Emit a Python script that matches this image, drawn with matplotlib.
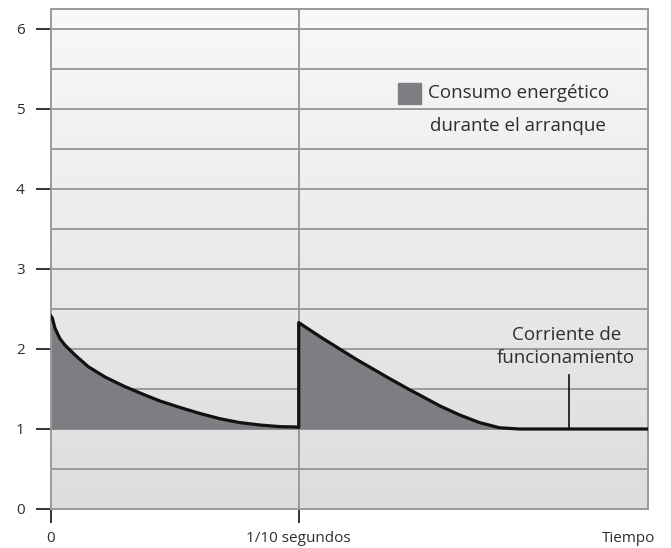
import numpy as np
import matplotlib.pyplot as plt
from matplotlib.colors import LinearSegmentedColormap

# ----------------------------
# Data (x in units of 1/10 s)
# ----------------------------
t_first = [0.0, 0.005, 0.016, 0.036, 0.056, 0.097, 0.15, 0.218, 0.298,
           0.379, 0.44, 0.52, 0.60, 0.68, 0.762, 0.843, 0.923, 0.99]
i_first = [2.41, 2.39, 2.26, 2.13, 2.05, 1.925, 1.78, 1.65, 1.53,
           1.425, 1.35, 1.27, 1.195, 1.13, 1.08, 1.05, 1.03, 1.025]

t_second = [1.0, 1.098, 1.233, 1.367, 1.448, 1.488, 1.569, 1.65, 1.73,
            1.81, 1.89, 2.41]
i_second = [2.33, 2.13, 1.87, 1.63, 1.49, 1.425, 1.29, 1.175, 1.08,
            1.016, 1.0, 1.0]

base_current = 1.0
y_ticks = [0, 1, 2, 3, 4, 5, 6]
x_ticks = [0, 1]
x_tick_labels = ["0", "1/10 segundos"]

plt.rcParams['font.family'] = ['Open Sans', 'DejaVu Sans']
txt_col = '#2e2e2e'
grid_col = '#9a9a9a'
fill_col = '#7d7e82'

fig = plt.figure(figsize=(6.71, 5.48), dpi=100)
ax = fig.add_axes([51/671, 39/548, 597/671, 500/548])

xmax = 2.41
ymax = 6.25
ax.set_xlim(0, xmax)
ax.set_ylim(0, ymax)

# gradient background
grad = np.linspace(0, 1, 256).reshape(-1, 1)
bg = LinearSegmentedColormap.from_list('bg', ['#f8f8f8', '#dcdddf'])
ax.imshow(grad, extent=[0, xmax, 0, ymax], aspect='auto', origin='upper',
          cmap=bg, zorder=0)

# horizontal grid every 0.5
for yv in np.arange(0.5, 6.01, 0.5):
    ax.axhline(yv, color=grid_col, lw=1.4, zorder=1)
ax.axvline(1.0, color=grid_col, lw=1.4, zorder=1)

# curves
t_line = t_first + [1.0] + t_second
i_line = i_first + [1.02] + i_second
ax.fill_between(t_first + [1.0], i_first + [1.02], base_current,
                color=fill_col, lw=0, zorder=2)
ax.fill_between(t_second, i_second, base_current,
                color=fill_col, lw=0, zorder=2)
ax.plot(t_line, i_line, color='#111111', lw=2.3, zorder=3,
        solid_joinstyle='round')

for s in ax.spines.values():
    s.set_color(grid_col)
    s.set_linewidth(1.4)

ax.set_yticks(y_ticks)
ax.set_yticklabels([str(v) for v in y_ticks])
ax.set_xticks(x_ticks)
ax.set_xticklabels(x_tick_labels)
ax.tick_params(axis='y', length=11, width=1.4, color='#333333',
               labelsize=11, labelcolor=txt_col, pad=8)
ax.tick_params(axis='x', length=10, width=1.4, color='#333333',
               labelsize=11, labelcolor=txt_col, pad=6)

ax.text(2.33, -0.37, "Tiempo", ha='center', va='center',
        fontsize=11, color=txt_col, clip_on=False)

# legend
ax.add_patch(plt.Rectangle((1.4, 5.06), 0.093, 0.27, color=fill_col,
                           zorder=4))
ax.text(1.52, 5.2, "Consumo energético", ha='left', va='center',
        fontsize=13.5, color=txt_col, zorder=4)
ax.text(1.528, 4.79, "durante el arranque", ha='left', va='center',
        fontsize=13.5, color=txt_col, zorder=4)

# annotation
ax.text(2.08, 2.03, "Corriente de\nfuncionamiento", ha='center',
        va='center', fontsize=13.5, color=txt_col, linespacing=1.38,
        zorder=4)
ax.plot([2.09, 2.09], [base_current, 1.68], color='#111111', lw=1.2,
        zorder=4)

fig.savefig("out.png", dpi=100)
